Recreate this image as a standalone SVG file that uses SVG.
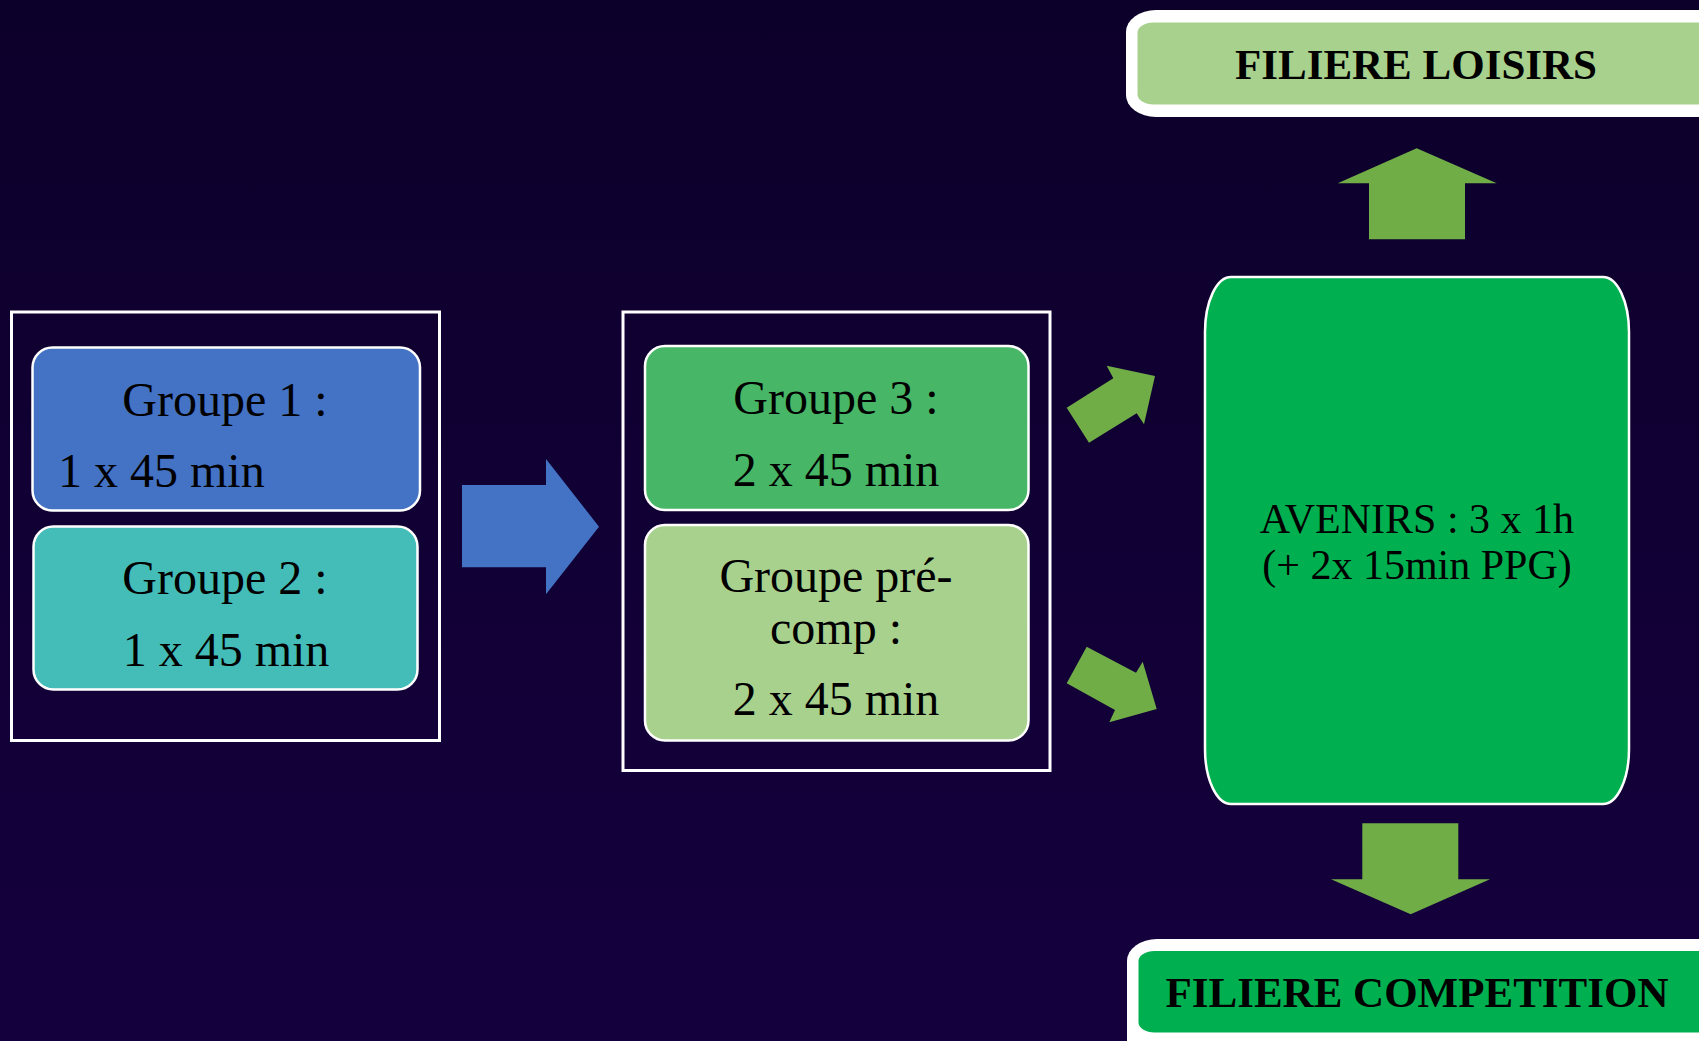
<svg xmlns="http://www.w3.org/2000/svg" width="1699" height="1041" viewBox="0 0 1699 1041">
  <defs>
    <linearGradient id="bg" x1="0" y1="0" x2="0" y2="1">
      <stop offset="0" stop-color="#0c002a"/>
      <stop offset="1" stop-color="#15003e"/>
    </linearGradient>
  </defs>
  <style>
    .frame { fill: none; stroke: #ffffff; stroke-width: 3; }
    .box { stroke: #ffffff; stroke-width: 2.5; }
    .lbl { font-family: "Liberation Serif", "Times New Roman", serif; font-size: 48px; fill: #000000; }
    .mid { text-anchor: middle; }
    .av { font-family: "Liberation Serif", "Times New Roman", serif; font-size: 42px; fill: #000000; text-anchor: middle; }
    .fil { font-family: "Liberation Serif", "Times New Roman", serif; font-size: 43px; font-weight: bold; fill: #000000; text-anchor: middle; }
    .garrow { fill: #70ad47; }
    .barrow { fill: #4472c4; }
  </style>

  <rect x="0" y="0" width="1699" height="1041" fill="url(#bg)"/>

  <g id="frame-left">
    <rect class="frame" x="11.5" y="312" width="428" height="428.5"/>
  </g>
  <g id="frame-middle">
    <rect class="frame" x="623" y="312" width="427" height="458.5"/>
  </g>

  <g id="groupe1">
    <rect class="box" x="32.5" y="347.5" width="387.5" height="163" rx="20" ry="20" fill="#4472c4"/>
    <text class="lbl mid" x="225" y="415.5">Groupe 1 :</text>
    <text class="lbl" x="58" y="486.5">1 x 45 min</text>
  </g>

  <g id="groupe2">
    <rect class="box" x="33.5" y="526.5" width="384" height="163" rx="20" ry="20" fill="#44bdb9"/>
    <text class="lbl mid" x="225" y="594">Groupe 2 :</text>
    <text class="lbl mid" x="226" y="665.5">1 x 45 min</text>
  </g>

  <g id="groupe3">
    <rect class="box" x="645" y="346" width="383.5" height="164" rx="20" ry="20" fill="#47b667"/>
    <text class="lbl mid" x="836" y="413.5">Groupe 3 :</text>
    <text class="lbl mid" x="836" y="485.5">2 x 45 min</text>
  </g>

  <g id="groupe-precomp">
    <rect class="box" x="645" y="525" width="383.5" height="215.5" rx="20" ry="20" fill="#a9d18e"/>
    <text class="lbl mid" x="836" y="591.5">Groupe pré-</text>
    <text class="lbl mid" x="836" y="643.5">comp :</text>
    <text class="lbl mid" x="836" y="715">2 x 45 min</text>
  </g>

  <g id="avenirs">
    <rect class="box" x="1205" y="277" width="424" height="527" rx="26" ry="55" fill="#00b050"/>
    <text class="av" x="1417" y="533">AVENIRS : 3 x 1h</text>
    <text class="av" x="1417" y="579">(+ 2x 15min PPG)</text>
  </g>

  <g id="filiere-loisirs">
    <rect x="1126" y="10" width="620" height="107" rx="30" ry="22" fill="#ffffff"/>
    <rect x="1137.5" y="22.5" width="600" height="82" rx="16" ry="10" fill="#a9d18e"/>
    <text class="fil" x="1416" y="79">FILIERE LOISIRS</text>
  </g>

  <g id="filiere-competition">
    <rect x="1127" y="939" width="620" height="130" rx="30" ry="22" fill="#ffffff"/>
    <rect x="1138.5" y="951" width="600" height="81.5" rx="16" ry="10" fill="#00b050"/>
    <text class="fil" x="1417" y="1007">FILIERE COMPETITION</text>
  </g>

  <g id="connectors">
    <polygon class="barrow" points="462,485 546,485 546,459 599,526.7 546,594.3 546,567.3 462,567.3"/>
    <polygon class="garrow" points="1066.7,407.7 1113.3,378.3 1106.7,365.7 1155,376 1144,424.3 1136.7,413.3 1089,442.7"/>
    <polygon class="garrow" points="1086.7,646.7 1136,672.7 1142.7,661.7 1156.7,709 1109.3,722.3 1115,710 1066.7,683.3"/>
    <polygon class="garrow" points="1369,239.3 1369,183.3 1337.7,183.3 1416.7,148.3 1496.7,183.3 1465,183.3 1465,239.3"/>
    <polygon class="garrow" points="1362.3,823.3 1458.3,823.3 1458.3,879.3 1490,879.3 1410.7,914.3 1331,879.3 1362.3,879.3"/>
  </g>
</svg>
